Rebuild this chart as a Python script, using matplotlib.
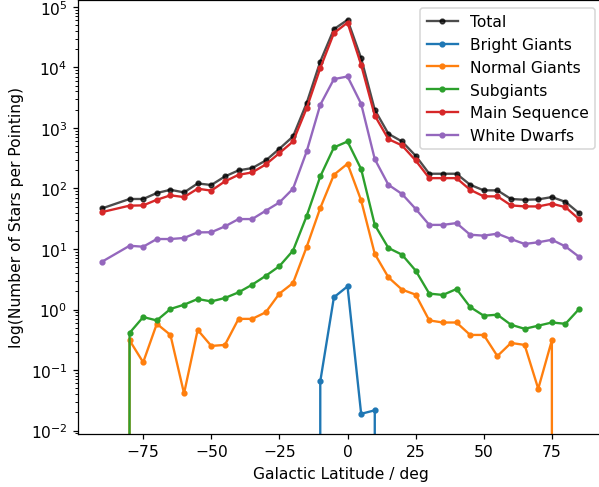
import matplotlib
matplotlib.use('Agg')
import matplotlib.pyplot as plt

# galactic latitude of each pointing (no -85 pointing)
lat = [-90, -80, -75, -70, -65, -60, -55, -50, -45, -40, -35, -30, -25, -20, -15, -10, -5, 0,
       5, 10, 15, 20, 25, 30, 35, 40, 45, 50, 55, 60, 65, 70, 75, 80, 85]

total = [47, 67, 67, 84, 95, 86, 121, 114, 158, 199, 217, 290, 453, 723, 2570, 12500, 42800, 61000,
         14200, 1990, 800, 597, 347, 175, 175, 175, 115, 93, 93, 67, 65, 66, 72, 60, 39]
bright_giants = [0, 0, 0, 0, 0, 0, 0, 0, 0, 0, 0, 0, 0, 0, 0, 0.065, 1.59, 2.41,
                 0.0189, 0.0216, 0, 0, 0, 0, 0, 0, 0, 0, 0, 0, 0, 0, 0, 0, 0]
normal_giants = [0, 0.31, 0.134, 0.58, 0.38, 0.041, 0.46, 0.25, 0.26, 0.70, 0.70, 0.90, 1.83, 2.74, 10.8, 47.5, 168, 256,
                 63.5, 8.3, 3.4, 2.13, 1.76, 0.66, 0.61, 0.61, 0.38, 0.38, 0.17, 0.28, 0.26, 0.049, 0.31, 0, 0]
subgiants = [0, 0.41, 0.75, 0.66, 1.02, 1.2, 1.49, 1.36, 1.55, 1.92, 2.57, 3.6, 5.2, 9.4, 35, 158, 476, 597,
             209, 25, 10.4, 8.05, 4.4, 1.83, 1.74, 2.18, 1.1, 0.79, 0.82, 0.56, 0.48, 0.54, 0.61, 0.58, 1.02]
main_sequence = [40.8, 52, 52.5, 65, 77, 72, 99, 92, 131, 168, 184, 249, 384, 597, 2120, 9730, 36800, 55000,
                 11000, 1600, 653, 514, 290, 148, 148, 148, 95, 74, 74, 52.5, 50.5, 50.5, 56, 49, 31]
white_dwarfs = [6.2, 11.3, 10.9, 14.6, 14.6, 15.2, 18.8, 18.9, 23.6, 31.2, 31.2, 42.9, 58.7, 99, 408, 2410, 6400, 7080,
                2500, 305, 115, 81, 46, 25, 25, 26.8, 17.2, 16.6, 17.9, 14.6, 12.1, 12.9, 14.2, 11, 7.4]

dpi = 112
fig = plt.figure(figsize=(599 / dpi, 488 / dpi), dpi=dpi)
# right edge of the axes runs just past the picture, as in the cropped original
ax = fig.add_axes([0.131, 0.1096, 0.8756, 0.888])

ax.plot(lat, total, '.-', color='k', alpha=0.7, label='Total')
ax.plot(lat, bright_giants, '.-', label='Bright Giants')
ax.plot(lat, normal_giants, '.-', label='Normal Giants')
ax.plot(lat, subgiants, '.-', label='Subgiants')
ax.plot(lat, main_sequence, '.-', label='Main Sequence')
ax.plot(lat, white_dwarfs, '.-', label='White Dwarfs')
ax.set_yscale('log')

ax.set_xlabel('Galactic Latitude / deg')
ax.set_ylabel('log(Number of Stars per Pointing)')
ax.legend(loc='upper right')

fig.savefig('out.png', dpi=dpi)
